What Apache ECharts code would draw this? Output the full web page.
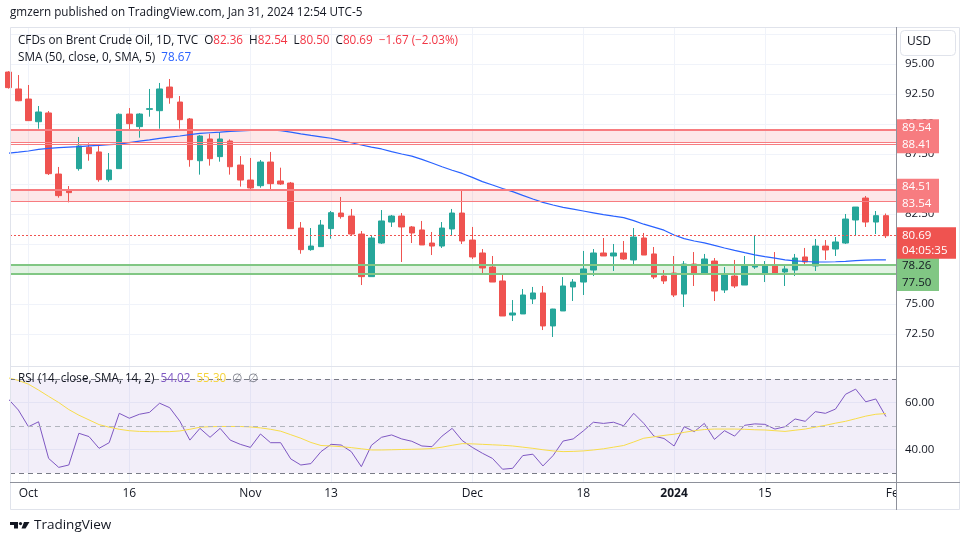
<!DOCTYPE html>
<html>
<head>
<meta charset="utf-8">
<title>Brent Crude Oil, 1D</title>
<script src="https://cdn.jsdelivr.net/npm/echarts@6.0.0/dist/echarts.min.js"></script>
<style>
  html, body { margin: 0; padding: 0; background: #fff; }
  #chart { width: 970px; height: 545px; }
</style>
</head>
<body>
<div id="chart"></div>
<script>
// trading days shown (the first one is cut by the left edge)
const dates = [
  '2023-09-28', '2023-09-29',
  '2023-10-02', '2023-10-03', '2023-10-04', '2023-10-05', '2023-10-06',
  '2023-10-09', '2023-10-10', '2023-10-11', '2023-10-12', '2023-10-13',
  '2023-10-16', '2023-10-17', '2023-10-18', '2023-10-19', '2023-10-20',
  '2023-10-23', '2023-10-24', '2023-10-25', '2023-10-26', '2023-10-27',
  '2023-10-30', '2023-10-31',
  '2023-11-01', '2023-11-02', '2023-11-03',
  '2023-11-06', '2023-11-07', '2023-11-08', '2023-11-09', '2023-11-10',
  '2023-11-13', '2023-11-14', '2023-11-15', '2023-11-16', '2023-11-17',
  '2023-11-20', '2023-11-21', '2023-11-22', '2023-11-23', '2023-11-24',
  '2023-11-27', '2023-11-28', '2023-11-29', '2023-11-30',
  '2023-12-01',
  '2023-12-04', '2023-12-05', '2023-12-06', '2023-12-07', '2023-12-08',
  '2023-12-11', '2023-12-12', '2023-12-13', '2023-12-14', '2023-12-15',
  '2023-12-18', '2023-12-19', '2023-12-20', '2023-12-21', '2023-12-22',
  '2023-12-26', '2023-12-27', '2023-12-28', '2023-12-29',
  '2024-01-02', '2024-01-03', '2024-01-04', '2024-01-05',
  '2024-01-08', '2024-01-09', '2024-01-10', '2024-01-11', '2024-01-12',
  '2024-01-15', '2024-01-16', '2024-01-17', '2024-01-18', '2024-01-19',
  '2024-01-22', '2024-01-23', '2024-01-24', '2024-01-25', '2024-01-26',
  '2024-01-29', '2024-01-30', '2024-01-31'
];

const opens = [
  94.33, 92.92, 92.08, 90.19, 90.92, 85.83, 84.42, 86.28, 88.06, 87.67,
  85.36, 86.28, 90.83, 89.78, 91.22, 91.11, 93.08, 91.83, 90.42, 86.94,
  88.75, 87.28, 88.58, 86.58, 85.33, 84.86, 86.83, 85.25, 85.08, 81.33,
  79.53, 79.78, 81.28, 82.58, 82.33, 80.83, 77.28, 80.08, 81.83, 82.33,
  81.42, 81.17, 80.08, 79.83, 81.25, 82.58, 80.33, 79.25, 78.08, 76.92,
  74.08, 74.17, 75.42, 75.92, 73.17, 74.42, 76.42, 76.83, 77.83, 79.25,
  79.00, 79.25, 78.67, 80.50, 79.17, 77.33, 77.58, 75.83, 78.33, 77.50,
  78.58, 76.17, 77.33, 76.58, 78.08, 77.58, 78.17, 77.67, 77.83, 78.92,
  78.17, 79.83, 79.58, 80.08, 82.00, 83.83, 81.83, 82.36
];
const highs = [
  94.40, 94.08, 93.25, 91.50, 91.08, 86.42, 84.83, 88.92, 88.39, 88.17,
  87.58, 90.89, 91.33, 90.90, 92.92, 93.42, 93.75, 92.33, 90.50, 89.08,
  89.19, 89.33, 88.72, 87.33, 87.17, 87.00, 87.67, 86.36, 85.17, 81.83,
  81.33, 82.00, 82.75, 83.92, 82.92, 81.08, 80.75, 82.83, 82.42, 82.58,
  81.50, 81.92, 81.00, 81.83, 82.92, 84.50, 81.42, 79.58, 79.00, 77.58,
  75.33, 76.25, 76.42, 76.50, 74.60, 77.25, 77.08, 79.42, 79.58, 80.50,
  80.00, 80.25, 81.33, 80.92, 79.75, 77.83, 79.00, 78.58, 79.33, 79.17,
  78.83, 78.08, 78.67, 79.00, 80.67, 78.58, 79.33, 78.17, 79.17, 79.67,
  80.42, 80.33, 80.58, 82.50, 83.08, 84.00, 82.75, 82.54
];
const lows = [
  92.95, 91.90, 90.25, 89.61, 85.75, 83.86, 83.47, 86.11, 86.94, 85.19,
  85.19, 86.28, 89.56, 88.86, 90.61, 89.61, 91.69, 89.61, 86.44, 85.78,
  86.53, 86.86, 85.78, 84.78, 84.58, 84.69, 84.58, 84.92, 81.25, 79.19,
  79.44, 79.78, 80.44, 82.11, 80.75, 76.58, 77.28, 80.00, 81.42, 78.50,
  80.08, 79.92, 79.08, 79.67, 80.67, 80.00, 78.75, 77.50, 76.83, 74.00,
  73.58, 74.17, 75.00, 72.83, 72.25, 74.42, 75.25, 75.75, 77.33, 79.00,
  77.75, 78.67, 78.33, 79.08, 77.08, 76.67, 75.58, 74.75, 76.50, 77.50,
  75.25, 75.92, 76.33, 76.58, 77.92, 76.83, 77.58, 76.50, 77.33, 78.25,
  77.75, 78.67, 79.00, 80.00, 80.75, 81.42, 80.83, 80.50
];
const closes = [
  93.03, 91.94, 90.28, 91.00, 85.86, 84.03, 84.28, 88.17, 87.53, 85.36,
  86.17, 90.81, 90.03, 90.83, 91.28, 92.92, 92.19, 90.36, 87.03, 89.00,
  87.11, 88.75, 86.44, 85.33, 84.67, 86.83, 85.03, 85.00, 81.28, 79.53,
  79.83, 81.58, 82.61, 82.28, 80.83, 77.28, 80.50, 81.92, 82.33, 81.42,
  80.92, 79.92, 79.83, 81.33, 82.58, 80.25, 78.92, 78.00, 76.83, 74.00,
  74.25, 75.75, 75.92, 73.17, 74.58, 76.50, 76.83, 77.92, 79.25, 79.00,
  79.25, 78.75, 80.58, 79.08, 77.25, 76.92, 75.75, 78.33, 77.50, 78.75,
  76.08, 77.42, 76.50, 78.17, 78.25, 78.25, 77.58, 77.92, 78.83, 78.50,
  79.83, 79.50, 80.17, 82.08, 83.08, 81.83, 82.36, 80.69
];

// SMA (50, close, 0, SMA, 5)
const sma50 = [
  87.56, 87.65, 87.75, 87.88, 87.97, 88.03, 88.08, 88.12, 88.17, 88.22,
  88.28, 88.33, 88.45, 88.57, 88.68, 88.80, 88.90, 89.00, 89.12, 89.22,
  89.27, 89.32, 89.38, 89.42, 89.46, 89.49, 89.50, 89.45, 89.32, 89.18,
  89.05, 88.93, 88.81, 88.62, 88.44, 88.25, 88.08, 87.92, 87.70, 87.50,
  87.32, 87.05, 86.75, 86.44, 86.15, 85.88, 85.55, 85.20, 84.92, 84.62,
  84.36, 84.05, 83.75, 83.47, 83.25, 83.05, 82.90, 82.75, 82.60, 82.45,
  82.32, 82.20, 81.95, 81.65, 81.40, 81.15, 80.75, 80.45, 80.25, 80.10,
  79.88, 79.67, 79.47, 79.28, 79.10, 78.95, 78.82, 78.68, 78.60, 78.54,
  78.50, 78.50, 78.52, 78.56, 78.62, 78.66, 78.67, 78.67
];

// RSI (14) and its SMA (14)
const rsi = [
  61.5, 56.8, 49.7, 51.8, 36.2, 32.4, 33.4, 46.9, 45.5, 40.5,
  42.9, 55.4, 53.3, 55.0, 55.8, 59.7, 57.8, 52.1, 44.0, 49.0,
  45.2, 49.0, 44.0, 42.2, 40.9, 46.6, 42.9, 42.9, 36.0, 33.4,
  34.0, 39.1, 42.2, 41.9, 39.1, 32.7, 41.8, 45.2, 46.2, 44.5,
  43.5, 41.5, 41.2, 45.7, 49.0, 43.8, 40.9, 38.4, 36.2, 31.6,
  32.0, 37.4, 38.0, 33.0, 37.4, 43.6, 44.5, 47.9, 51.6, 51.1,
  51.6, 50.1, 55.4, 51.1, 45.7, 44.7, 41.5, 49.7, 47.6, 51.1,
  44.3, 48.0, 45.7, 50.3, 50.9, 50.7, 48.7, 49.7, 53.0, 52.0,
  56.1, 55.4, 57.2, 63.5, 65.7, 60.3, 61.5, 54.02
];
const rsiMa = [
  70.5, 69.4, 67.8, 65.3, 62.6, 60.0, 57.0, 54.6, 52.6, 50.6,
  49.5, 48.6, 48.0, 47.7, 47.6, 47.6, 47.6, 47.9, 48.6, 49.5,
  49.7, 49.8, 49.8, 49.8, 49.6, 49.2, 48.6, 47.8, 46.3, 44.8,
  43.0, 41.7, 41.5, 41.2, 40.8, 40.3, 39.8, 39.8, 39.9, 40.0,
  40.1, 40.2, 40.4, 41.0, 41.8, 42.5, 42.4, 42.2, 42.0, 41.8,
  41.5, 41.0, 40.5, 39.9, 39.4, 39.1, 39.2, 39.4, 39.8, 40.3,
  41.0, 41.7, 43.2, 44.8, 45.4, 46.0, 46.5, 47.3, 48.0, 48.5,
  48.7, 48.7, 48.7, 48.6, 48.4, 48.3, 48.0, 47.7, 48.2, 48.7,
  49.5, 50.3, 51.2, 52.0, 53.1, 54.2, 55.0, 55.30
];

// drawn levels
const zoneUpper = [89.54, 88.47];
const zoneUpperExtra = 88.31;
const zoneMiddle = [84.51, 83.54];
const zoneLower = [78.26, 77.50];
const tagUpper = [89.54, 88.41];
const countdown = '04:05:35';

// axis ticks
const priceTicks = [72.5, 75, 77.5, 80, 82.5, 85, 87.5, 90, 92.5, 95, 97.5];
const rsiTicks = [40, 60];
const rsiLevels = [70, 50, 30];
const timeTickDates = ['2023-10-02', '2023-10-16', '2023-11-01', '2023-11-13', '2023-12-01',
                       '2023-12-18', '2024-01-02', '2024-01-15', '2024-02-01'];
const timeLabels = ['Oct', '16', 'Nov', '13', 'Dec', '18', '2024', '15', 'Feb'];

const FONT = "'Open Sans', 'Noto Sans', sans-serif";
const TEXT = '#131722';
const UP = '#26a69a';
const DOWN = '#ef5350';
const LEVEL_RED = '#f77c80';
const LEVEL_GREEN = '#81c784';
const GRID = '#f0f3fa';
const AXIS = '#8e919b';
const NONE = 'rgba(0,0,0,0)';

const n = dates.length;
const last = n - 1;
// the day after the last one sits on the price scale edge
const timeIdx = timeTickDates.map(d => { const k = dates.indexOf(d); return k < 0 ? n : k; });

// price tag on the right scale; pair tags stack two values in one box
function tag(text, bg, fg, opts) {
  return Object.assign({
    show: true, position: 'end', distance: 1, opacity: 1,
    formatter: text,
    backgroundColor: bg, color: fg,
    fontFamily: FONT, fontSize: 11.5, lineHeight: 17,
    padding: [0, 5, 0, 5], width: 32, align: 'left', verticalAlign: 'middle'
  }, opts || {});
}
const pair = (a, b) => a.toFixed(2) + '\n' + b.toFixed(2);
const hidden = { show: false };

function xAxisCfg(gridIndex, showLabels) {
  return {
    type: 'value', gridIndex: gridIndex, min: 0.17, max: n,
    axisLine: { show: false },
    axisTick: { show: false, customValues: timeIdx },
    splitLine: { show: true, lineStyle: { color: GRID, width: 1 } },
    axisLabel: {
      show: showLabels, customValues: timeIdx, margin: 6,
      color: TEXT, fontSize: 12, fontFamily: FONT,
      formatter: v => {
        const k = timeIdx.indexOf(Math.round(v));
        const s = k < 0 ? '' : timeLabels[k];
        return /^\d{4}$/.test(s) ? '{b|' + s + '}' : s;
      },
      rich: { b: { fontWeight: 'bold', color: TEXT, fontSize: 12, fontFamily: FONT } }
    }
  };
}

const candleData = dates.map((d, i) => [i, opens[i], closes[i], lows[i], highs[i]]);
const chg = closes[last] - closes[last - 1];
const chgPct = chg / closes[last - 1] * 100;
const sgn = v => (v < 0 ? '\u2212' : '+') + Math.abs(v).toFixed(2);

const chart = echarts.init(document.getElementById('chart'));

chart.setOption({
  animation: false,
  backgroundColor: '#fff',
  grid: [
    { left: 10, right: 74, top: 27, bottom: 179 },
    { left: 10, right: 74, top: 367, bottom: 63 }
  ],
  xAxis: [xAxisCfg(0, false), xAxisCfg(1, true)],
  yAxis: [
    {
      type: 'value', gridIndex: 0, position: 'right', min: 69.8333, max: 98.0833,
      axisLine: { show: false },
      axisTick: { show: false, customValues: priceTicks },
      splitLine: { lineStyle: { color: GRID, width: 1 } },
      axisLabel: {
        customValues: priceTicks.filter(v => v <= 95), margin: 9,
        formatter: v => v.toFixed(2), color: TEXT, fontSize: 11.5, fontFamily: FONT
      }
    },
    {
      type: 'value', gridIndex: 1, position: 'right', min: 26.17, max: 75.11,
      axisLine: { show: false },
      axisTick: { show: false, customValues: rsiTicks },
      splitLine: { lineStyle: { color: GRID, width: 1 } },
      axisLabel: {
        customValues: rsiTicks, margin: 9,
        formatter: v => v.toFixed(2), color: TEXT, fontSize: 11.5, fontFamily: FONT
      }
    }
  ],
  series: [
    {
      // horizontal levels / zones with their price tags
      name: 'levels', type: 'line', xAxisIndex: 0, yAxisIndex: 0, data: [], clip: false,
      markArea: {
        silent: true,
        data: [
          [{ yAxis: zoneUpper[0], itemStyle: { color: 'rgba(242,54,69,0.12)' } }, { yAxis: zoneUpper[1] }],
          [{ yAxis: zoneMiddle[0], itemStyle: { color: 'rgba(242,54,69,0.12)' } }, { yAxis: zoneMiddle[1] }],
          [{ yAxis: zoneLower[0], itemStyle: { color: 'rgba(129,199,132,0.22)' } }, { yAxis: zoneLower[1] }]
        ]
      },
      markLine: {
        silent: true, symbol: ['none', 'none'],
        data: [
          { yAxis: zoneUpper[0], lineStyle: { color: LEVEL_RED, width: 2, type: 'solid' }, label: hidden },
          { yAxis: zoneUpper[1], lineStyle: { color: LEVEL_RED, width: 1, type: 'solid' }, label: hidden },
          { yAxis: zoneUpperExtra, lineStyle: { color: LEVEL_RED, width: 1, type: 'solid' }, label: hidden },
          { yAxis: zoneMiddle[0], lineStyle: { color: LEVEL_RED, width: 2, type: 'solid' }, label: hidden },
          { yAxis: zoneMiddle[1], lineStyle: { color: LEVEL_RED, width: 1, type: 'solid' }, label: hidden },
          { yAxis: zoneLower[0], lineStyle: { color: LEVEL_GREEN, width: 2, type: 'solid' }, label: hidden },
          // tags: pairs centred between their two levels, green one hung on its lower level
          { yAxis: (tagUpper[0] + tagUpper[1]) / 2, lineStyle: { color: NONE }, label: tag(pair(tagUpper[0], tagUpper[1]), LEVEL_RED, '#fff') },
          { yAxis: (zoneMiddle[0] + zoneMiddle[1]) / 2, lineStyle: { color: NONE }, label: tag(pair(zoneMiddle[0], zoneMiddle[1]), LEVEL_RED, '#fff') },
          { yAxis: zoneLower[1], lineStyle: { color: LEVEL_GREEN, width: 2, type: 'solid' }, label: tag(pair(zoneLower[0], zoneLower[1]), LEVEL_GREEN, TEXT) },
          // last price: countdown box first so the price box sits on top of it
          {
            yAxis: closes[last], lineStyle: { color: NONE },
            label: tag(countdown, DOWN, '#fff', { width: 49, verticalAlign: 'top', padding: [6, 5, 0, 5] })
          },
          {
            yAxis: closes[last], lineStyle: { color: DOWN, width: 1, type: [2, 2] },
            label: tag(closes[last].toFixed(2), DOWN, '#fff', { width: 49 })
          }
        ]
      }
    },
    {
      name: 'Brent', type: 'candlestick', xAxisIndex: 0, yAxisIndex: 0,
      data: candleData, encode: { x: 0, y: [1, 2, 3, 4] },
      barWidth: 6, clip: true,
      itemStyle: { color: UP, color0: DOWN, borderColor: UP, borderColor0: DOWN, borderWidth: 1 }
    },
    {
      name: 'SMA 50', type: 'line', xAxisIndex: 0, yAxisIndex: 0,
      data: sma50.map((v, i) => [i, v]), symbol: 'none', clip: true,
      lineStyle: { color: '#2962ff', width: 1.2 }
    },
    {
      name: 'rsiLevels', type: 'line', xAxisIndex: 1, yAxisIndex: 1, data: [],
      markArea: {
        silent: true,
        data: [[{ yAxis: rsiLevels[2], itemStyle: { color: 'rgba(126,87,194,0.1)' } }, { yAxis: rsiLevels[0] }]]
      },
      markLine: {
        silent: true, symbol: ['none', 'none'], label: hidden,
        data: [
          { yAxis: rsiLevels[0], lineStyle: { color: '#787b86', width: 1, type: [5, 4] } },
          { yAxis: rsiLevels[1], lineStyle: { color: '#b2b5be', width: 1, type: [5, 4] } },
          { yAxis: rsiLevels[2], lineStyle: { color: '#787b86', width: 1, type: [5, 4] } }
        ]
      }
    },
    {
      name: 'RSI', type: 'line', xAxisIndex: 1, yAxisIndex: 1,
      data: rsi.map((v, i) => [i, v]), symbol: 'none', clip: true,
      lineStyle: { color: '#7e57c2', width: 1 }
    },
    {
      name: 'RSI MA', type: 'line', xAxisIndex: 1, yAxisIndex: 1,
      data: rsiMa.map((v, i) => [i, v]), symbol: 'none', clip: true,
      lineStyle: { color: '#f7dc4a', width: 1 }
    }
  ],
  graphic: [
    {
      type: 'text', left: 10, top: 7, z: 120,
      style: { text: 'gmzern published on TradingView.com, Jan 31, 2024 12:54 UTC-5', fill: TEXT, fontSize: 11.7, fontFamily: FONT }
    },
    { type: 'rect', z: 90, silent: true, shape: { x: 10.5, y: 27.5, width: 949, height: 482 }, style: { fill: 'none', stroke: '#e0e3eb', lineWidth: 1 } },
    { type: 'rect', z: 100, silent: true, shape: { x: 897, y: 483, width: 62, height: 26 }, style: { fill: '#fff' } },
    { type: 'line', z: 110, silent: true, shape: { x1: 10, y1: 366.5, x2: 960, y2: 366.5 }, style: { stroke: '#e0e3eb', lineWidth: 1 } },
    { type: 'line', z: 110, silent: true, shape: { x1: 896.5, y1: 27, x2: 896.5, y2: 510 }, style: { stroke: AXIS, lineWidth: 1 } },
    { type: 'line', z: 110, silent: true, shape: { x1: 10, y1: 482.5, x2: 960, y2: 482.5 }, style: { stroke: AXIS, lineWidth: 1 } },
    { type: 'rect', z: 110, silent: true, shape: { x: 900.5, y: 30.5, width: 55, height: 25, r: 4 }, style: { fill: '#fff', stroke: '#e0e3eb', lineWidth: 1 } },
    { type: 'text', z: 120, left: 907, top: 36, style: { text: 'USD', fill: TEXT, fontSize: 12, fontFamily: FONT } },
    {
      type: 'text', z: 120, left: 18, top: 35,
      style: {
        text: '{t|CFDs on Brent Crude Oil, 1D, TVC}  {k|O}{v|' + opens[last].toFixed(2) + '}  {k|H}{v|' + highs[last].toFixed(2) +
              '}  {k|L}{v|' + lows[last].toFixed(2) + '}  {k|C}{v|' + closes[last].toFixed(2) + '}  {v|' + sgn(chg) + ' (' + sgn(chgPct) + '%)}',
        fontSize: 11.7, fontFamily: FONT, fill: TEXT,
        rich: {
          t: { fill: TEXT, fontSize: 11.7, fontFamily: FONT },
          k: { fill: TEXT, fontSize: 11.7, fontFamily: FONT },
          v: { fill: '#f23645', fontSize: 11.7, fontFamily: FONT }
        }
      }
    },
    {
      type: 'text', z: 120, left: 18, top: 52,
      style: {
        text: '{t|SMA (50, close, 0, SMA, 5)}  {b|' + sma50[last].toFixed(2) + '}',
        fontSize: 11.7, fontFamily: FONT, fill: TEXT,
        rich: {
          t: { fill: TEXT, fontSize: 11.7, fontFamily: FONT },
          b: { fill: '#2962ff', fontSize: 11.7, fontFamily: FONT }
        }
      }
    },
    {
      type: 'text', z: 120, left: 18, top: 373,
      style: {
        text: '{t|RSI (14, close, SMA, 14, 2)}  {p|' + rsi[last].toFixed(2) + '}  {y|' + rsiMa[last].toFixed(2) + '}  {g|\u2205  \u2205}',
        fontSize: 11.7, fontFamily: FONT, fill: TEXT,
        rich: {
          t: { fill: TEXT, fontSize: 11.7, fontFamily: FONT },
          p: { fill: '#7e57c2', fontSize: 11.7, fontFamily: FONT },
          y: { fill: '#f5d33a', fontSize: 11.7, fontFamily: FONT },
          g: { fill: '#787b86', fontSize: 11.7, fontFamily: FONT }
        }
      }
    },
    // TradingView logo
    { type: 'rect', z: 120, silent: true, shape: { x: 10, y: 522, width: 8, height: 3 }, style: { fill: TEXT } },
    { type: 'rect', z: 120, silent: true, shape: { x: 14, y: 522, width: 4, height: 6.5 }, style: { fill: TEXT } },
    { type: 'circle', z: 120, silent: true, shape: { cx: 20.5, cy: 523.6, r: 1.6 }, style: { fill: TEXT } },
    { type: 'polygon', z: 120, silent: true, shape: { points: [[24, 522], [29.5, 522], [25.5, 528.5], [21.5, 528.5]] }, style: { fill: TEXT } },
    { type: 'text', z: 120, left: 34, top: 518, style: { text: 'TradingView', fill: TEXT, fontSize: 13.5, fontFamily: FONT } }
  ]
});
</script>
</body>
</html>
